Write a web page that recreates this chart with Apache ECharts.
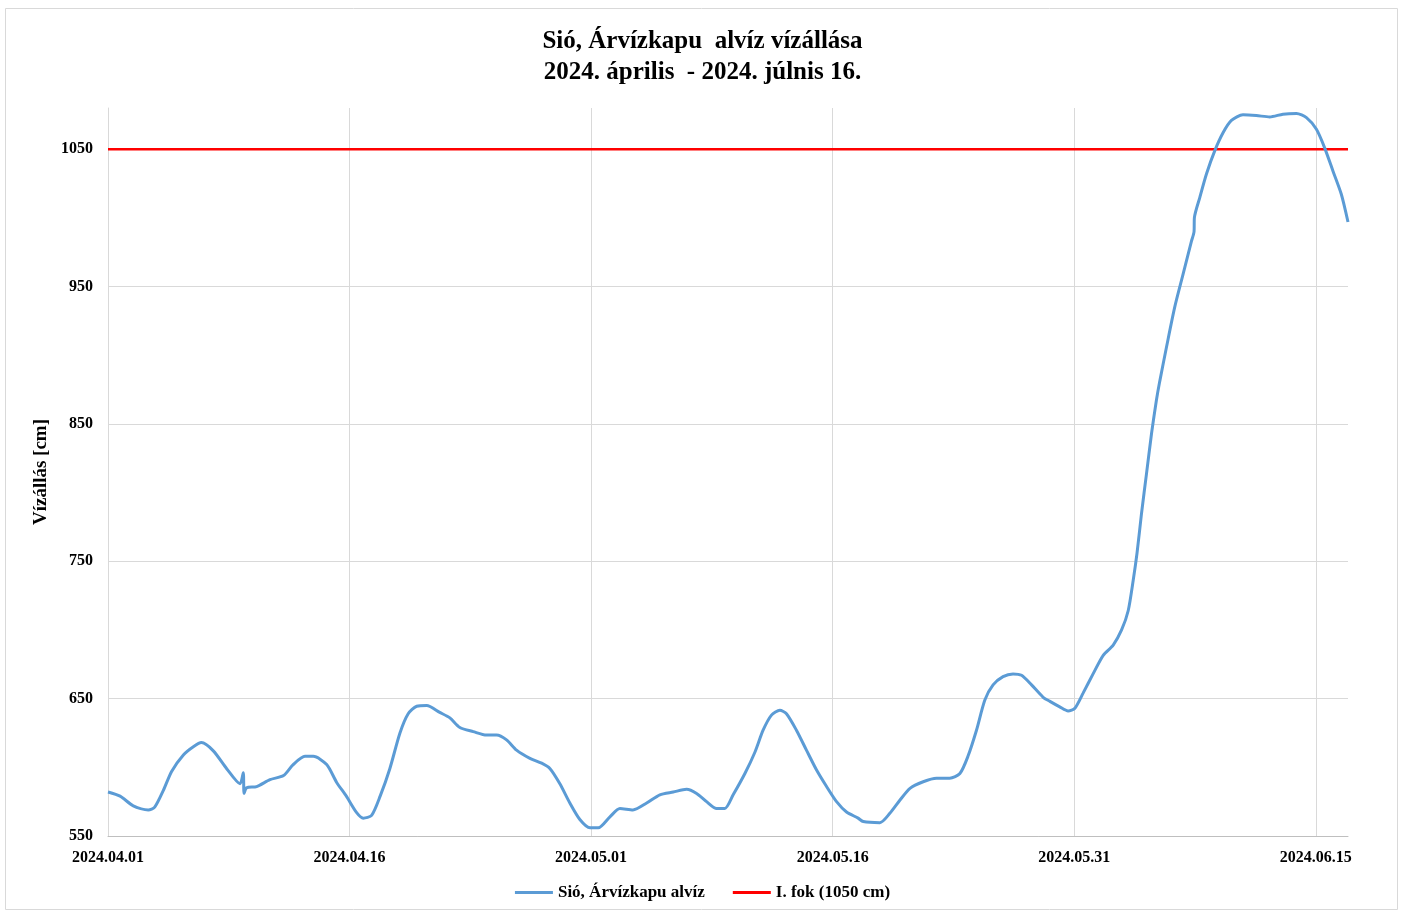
<!DOCTYPE html>
<html>
<head>
<meta charset="utf-8">
<script src="https://cdn.jsdelivr.net/npm/echarts@6/dist/echarts.min.js"></script>
<style>
html, body { margin: 0; padding: 0; background: #fff; }
#chart { width: 1405px; height: 913px; }
</style>
</head>
<body>
<div id="chart"></div>
<script>
// napok 2024.04.01-tol szamolva, vizallas cm-ben
var days = [0, 0.75, 1.57, 2.5, 2.9, 3.43, 3.95, 4.68, 5.3, 5.8, 6.54, 7.37, 8.2, 8.4, 8.45, 8.6,
  9.23, 10.06, 10.9, 11.5, 12.23, 12.75, 13.58, 14.2, 14.8, 15.44, 15.85, 16.37, 16.9, 17.5,
  18.13, 18.64, 19.17, 19.79, 20.6, 21.23, 21.85, 22.68, 23.5, 24.13, 24.75, 25.37, 26.2,
  26.93, 27.45, 28.06, 28.68, 29.3, 29.93, 30.44, 31.17, 31.79, 32.6, 33.45, 34.27, 35.1,
  35.93, 36.55, 37.17, 37.79, 38.3, 38.82, 39.55, 40.17, 40.68, 41.2, 41.72, 42.13, 42.75,
  43.37, 44, 44.62, 45.24, 45.86, 46.58, 46.9, 47.93, 48.55, 49.17, 49.8, 50.62, 51.45,
  52.27, 52.9, 53.4, 53.93, 54.45, 54.96, 55.58, 56.2, 56.73, 57.35, 58.07, 58.49, 59.1,
  59.62, 60.04, 60.55, 61.17, 61.8, 62.42, 62.94, 63.35, 63.66, 63.9, 64.18, 64.49, 64.8,
  65.1, 65.31, 65.73, 66.24, 66.76, 67.28, 67.44, 67.46, 67.8, 68.21, 68.73, 69.24, 69.76,
  70.48, 71.31, 72.14, 72.96, 73.8, 74.42, 75.04, 75.55, 76.07, 76.59, 77];
var levels = [582, 579, 572, 569, 571, 583, 597, 609, 615, 618, 612, 599, 588, 596, 581, 585,
  586, 591, 594, 602, 608, 608, 602, 589, 579, 567, 563, 565, 579, 599,
  625, 639, 644.5, 645, 640, 636, 629, 626, 623.5, 623.5, 620, 612.5, 606.5,
  603, 599, 588, 574, 562, 556, 556, 564, 570, 569, 574, 580, 582,
  584, 581, 575, 570, 570, 580, 595.5, 611, 627, 638, 641.5, 639, 627,
  612.5, 598, 586, 575, 567.5, 563, 560.5, 559.7, 566.5, 576, 584.7, 589.5, 592,
  592, 595.5, 608, 627, 649, 660, 666, 668, 667, 660, 651, 648, 644,
  641, 643, 654, 668, 681.5, 689, 700, 714, 736, 756, 785, 814, 843,
  867, 881, 906, 935, 959, 983, 990, 1000, 1015, 1032, 1049, 1062, 1071,
  1075, 1074.5, 1073.5, 1075.5, 1076, 1073, 1064.5, 1051, 1034, 1017, 997];
var tickLabels = ['2024.04.01', '2024.04.16', '2024.05.01', '2024.05.16', '2024.05.31', '2024.06.15'];
var thresholdLevel = 1050;
var lastDay = 77;

var font = 'Liberation Serif, Times New Roman, serif';

var chart = echarts.init(document.getElementById('chart'));

var waterData = days.map(function (d, i) { return [d, levels[i]]; });

var option = {
  animation: false,
  textStyle: { fontFamily: font },
  title: {
    text: 'Sió, Árvízkapu  alvíz vízállása\n2024. április  - 2024. júlnis 16.',
    left: 'center',
    top: 21,
    textStyle: { fontFamily: font, fontSize: 25, fontWeight: 'bold', color: '#000', lineHeight: 31 }
  },
  graphic: [{
    type: 'rect',
    shape: { x: 5.5, y: 8.5, width: 1392, height: 901 },
    style: { fill: 'none', stroke: '#d9d9d9', lineWidth: 1 },
    silent: true
  }],
  legend: {
    bottom: 7,
    left: 'center',
    itemWidth: 38,
    itemHeight: 3,
    itemGap: 28,
    icon: 'rect',
    textStyle: { fontFamily: font, fontSize: 17, fontWeight: 'bold', color: '#000' },
    data: ['Sió, Árvízkapu alvíz', 'I. fok (1050 cm)']
  },
  grid: { left: 108, right: 57, top: 108, bottom: 77, containLabel: false },
  xAxis: {
    type: 'value',
    min: 0,
    max: lastDay,
    interval: 15,
    axisLine: { show: true, lineStyle: { color: '#bfbfbf', width: 1 } },
    axisTick: { show: false },
    axisLabel: {
      margin: 14,
      showMaxLabel: false,
      fontFamily: font, fontSize: 16, fontWeight: 'bold', color: '#000',
      formatter: function (v) { return tickLabels[Math.round(v / 15)] || ''; }
    },
    splitLine: { show: true, showMaxLine: false, lineStyle: { color: '#d9d9d9', width: 1 } }
  },
  yAxis: {
    type: 'value',
    min: 550,
    max: 1080,
    interval: 100,
    name: 'Vízállás [cm]',
    nameLocation: 'middle',
    nameGap: 53,
    nameTextStyle: { fontFamily: font, fontSize: 19, fontWeight: 'bold', color: '#000' },
    axisLine: { show: true, lineStyle: { color: '#d9d9d9', width: 1 } },
    axisTick: { show: false },
    axisLabel: {
      margin: 15,
      showMaxLabel: false,
      fontFamily: font, fontSize: 16, fontWeight: 'bold', color: '#000',
      formatter: function (v) { return String(v); }
    },
    splitLine: { show: true, showMaxLine: false, lineStyle: { color: '#d9d9d9', width: 1 } }
  },
  series: [{
    name: 'Sió, Árvízkapu alvíz',
    type: 'line',
    data: waterData,
    symbol: 'none',
    smooth: 0.25,
    lineStyle: { color: '#5b9bd5', width: 3 },
    itemStyle: { color: '#5b9bd5' },
    z: 3
  }, {
    name: 'I. fok (1050 cm)',
    type: 'line',
    data: [[0, thresholdLevel], [lastDay, thresholdLevel]],
    symbol: 'none',
    lineStyle: { color: '#ff0000', width: 2.5 },
    itemStyle: { color: '#ff0000' },
    z: 2
  }]
};

chart.setOption(option);
</script>
</body>
</html>
